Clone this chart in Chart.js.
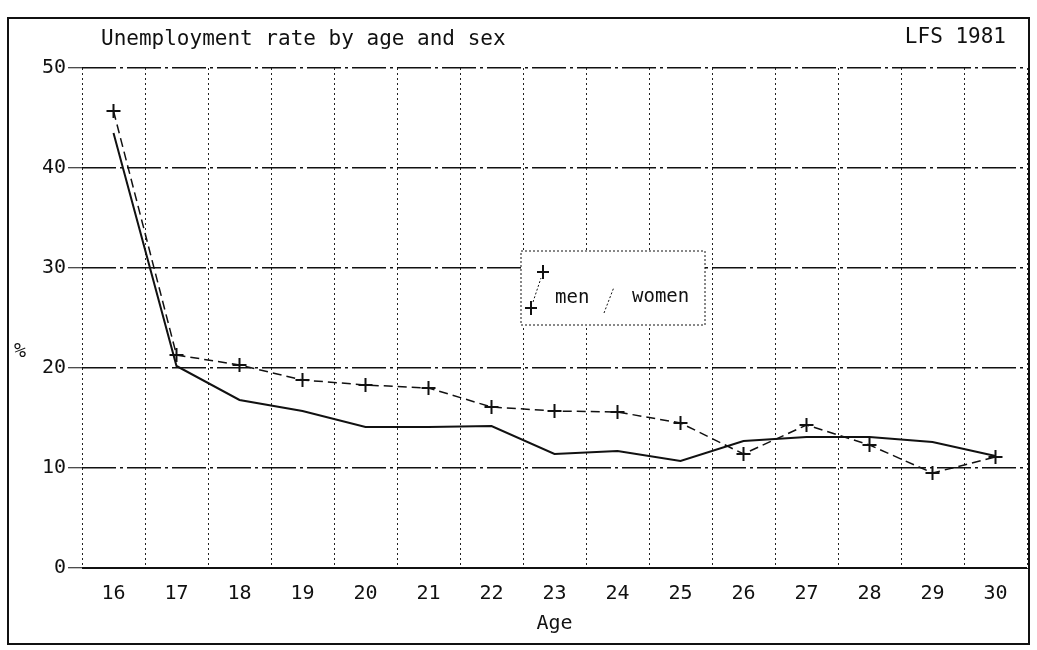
<!DOCTYPE html>
<html lang="en">
<head>
    <meta charset="UTF-8">
    <title>Unemployment rate by age and sex</title>
    <script src="https://cdn.jsdelivr.net/npm/chart.js"></script>
    <style>
        body { margin: 0; padding: 0; background: #fff; }
        .wrap { position: relative; width: 1037px; height: 650px; }
    </style>
</head>
<body>
    <div class="wrap">
        <canvas id="lfsChart"></canvas>
    </div>

    <script>
        // LFS 1981 - unemployment rate (%) by single year of age
        const ages = ['16', '17', '18', '19', '20', '21', '22', '23', '24', '25', '26', '27', '28', '29', '30'];
        const menRate = [45.7, 21.3, 20.3, 18.8, 18.3, 18.0, 16.1, 15.7, 15.6, 14.5, 11.4, 14.3, 12.3, 9.5, 11.1];
        const womenRate = [43.5, 20.2, 16.8, 15.7, 14.1, 14.1, 14.2, 11.4, 11.7, 10.7, 12.7, 13.1, 13.1, 12.6, 11.2];
        const yTicks = [0, 10, 20, 30, 40, 50];

        const mono = '"DejaVu Sans Mono", "Liberation Mono", monospace';

        // titles, frame and the little "men / women" key, drawn on top
        const printoutPlugin = {
            id: 'printout',
            beforeDraw(chart) {
                const ctx = chart.ctx;
                ctx.save();
                ctx.fillStyle = '#fff';
                ctx.fillRect(0, 0, chart.width, chart.height);
                ctx.restore();
            },
            afterDraw(chart) {
                const ctx = chart.ctx;
                const area = chart.chartArea;
                ctx.save();
                ctx.fillStyle = '#111';
                ctx.strokeStyle = '#111';

                // outer frame
                ctx.lineWidth = 2;
                ctx.strokeRect(8, 18, 1021, 626);

                // solid base line at 0
                ctx.beginPath();
                ctx.moveTo(area.left, area.bottom);
                ctx.lineTo(area.right, area.bottom);
                ctx.stroke();

                ctx.font = '21px ' + mono;
                ctx.textBaseline = 'middle';
                ctx.textAlign = 'left';
                ctx.fillText('Unemployment rate by age and sex', 101, 40);
                ctx.textAlign = 'right';
                ctx.fillText('LFS 1981', 1006, 38);

                ctx.font = '20px ' + mono;
                ctx.textAlign = 'center';
                ctx.fillText('Age', (area.left + area.right) / 2, 624);
                ctx.fillText('%', 20, 352);

                // key box
                const bx = 521, by = 251, bw = 184, bh = 74;
                ctx.fillStyle = '#fff';
                ctx.fillRect(bx, by, bw, bh);
                ctx.lineWidth = 1;
                ctx.setLineDash([2, 2]);
                ctx.strokeRect(bx, by, bw, bh);

                ctx.beginPath();
                ctx.moveTo(533, 302);
                ctx.lineTo(541, 278);
                ctx.stroke();
                ctx.beginPath();
                ctx.moveTo(604, 313);
                ctx.lineTo(614, 287);
                ctx.stroke();
                ctx.setLineDash([]);

                ctx.lineWidth = 2;
                [[531, 308], [543, 272]].forEach(([x, y]) => {
                    ctx.beginPath();
                    ctx.moveTo(x - 6, y);
                    ctx.lineTo(x + 6, y);
                    ctx.moveTo(x, y - 7);
                    ctx.lineTo(x, y + 7);
                    ctx.stroke();
                });

                ctx.fillStyle = '#111';
                ctx.font = '19px ' + mono;
                ctx.textAlign = 'left';
                ctx.fillText('men', 555, 298);
                ctx.fillText('women', 632, 297);
                ctx.restore();
            }
        };

        const ctx = document.getElementById('lfsChart').getContext('2d');
        const lfsChart = new Chart(ctx, {
            type: 'line',
            data: {
                labels: ages,
                datasets: [
                    {
                        label: 'men',
                        data: menRate,
                        borderColor: '#111',
                        borderWidth: 1.5,
                        borderDash: [9, 5],
                        pointStyle: 'cross',
                        pointRadius: 7,
                        pointBorderWidth: 2,
                        pointBorderColor: '#111',
                        tension: 0
                    },
                    {
                        label: 'women',
                        data: womenRate,
                        borderColor: '#111',
                        borderWidth: 2,
                        pointRadius: 0,
                        tension: 0
                    }
                ]
            },
            options: {
                responsive: true,
                maintainAspectRatio: false,
                animation: false,
                layout: {
                    padding: { left: 0, top: 68, right: 10, bottom: 0 }
                },
                plugins: {
                    legend: { display: false },
                    title: { display: false },
                    tooltip: { enabled: false }
                },
                scales: {
                    x: {
                        type: 'category',
                        offset: true,
                        afterFit(scale) { scale.height = 82; },
                        grid: {
                            offset: true,
                            color: '#222',
                            lineWidth: 1,
                            drawTicks: false
                        },
                        // in v4 the border dash is also used for the grid lines
                        border: {
                            display: true,
                            color: '#222',
                            width: 1,
                            dash: [2, 3]
                        },
                        ticks: {
                            color: '#111',
                            padding: 14,
                            maxRotation: 0,
                            font: { family: mono, size: 20 }
                        }
                    },
                    y: {
                        min: 0,
                        max: 50,
                        afterFit(scale) { scale.width = 82; },
                        afterBuildTicks(scale) {
                            scale.ticks = yTicks.map(v => ({ value: v }));
                        },
                        grid: {
                            color: '#111',
                            lineWidth: 1.5,
                            tickLength: 14,
                            tickColor: '#111',
                            tickWidth: 1
                        },
                        border: {
                            display: false,
                            dash: [34, 4, 3, 4]
                        },
                        ticks: {
                            color: '#111',
                            padding: 2,
                            font: { family: mono, size: 20 }
                        }
                    }
                }
            },
            plugins: [printoutPlugin]
        });
    </script>
</body>
</html>
